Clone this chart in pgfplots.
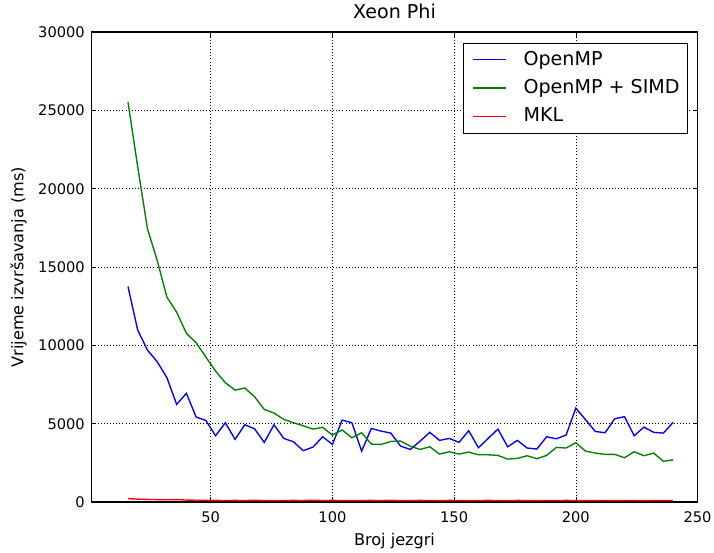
\documentclass[border=0pt]{standalone}
\usepackage{pgfplots}
\pgfplotsset{compat=1.18}
\usepackage{fontspec}
\setmainfont{DejaVu Sans}
\definecolor{mplblue}{rgb}{0,0,1}
\definecolor{mplgreen}{rgb}{0,0.5,0}
\definecolor{mplred}{rgb}{1,0,0}

\begin{document}
\begin{tikzpicture}
\begin{axis}[
scale only axis,width=489pt,height=379.3pt,
xmin=1,xmax=250,ymin=0,ymax=30000,
xtick={50,100,150,200,250},ytick={0,5000,...,30000},
/pgf/number format/assume math mode=true,
/pgf/number format/1000 sep={},
scaled y ticks=false,
tick align=inside,major tick length=4pt,
tick style={black,line width=0.5pt},
axis line style={line width=1pt},
grid=major,grid style={black,line width=0.5pt,dotted},
ticklabel style={font=\fontsize{11.8}{14}\selectfont},
xticklabel style={anchor=north,inner sep=0pt,yshift=-7.8pt},
yticklabel style={anchor=east,inner sep=0pt,xshift=-5.2pt},
title={Xeon Phi},
title style={at={(rel axis cs:0.5,1)},anchor=base,yshift=4.8pt,font=\fontsize{15.4}{18}\selectfont},
xlabel={Broj jezgri},
xlabel style={at={(rel axis cs:0.5,0)},anchor=base,yshift=-35pt,font=\fontsize{13}{15}\selectfont},
ylabel={Vrijeme izvršavanja (ms)},
ylabel style={at={(rel axis cs:0,0.5)},anchor=base,yshift=55pt,font=\fontsize{13}{15}\selectfont},
legend cell align=left,
legend image code/.code={\path (0pt,0pt) -- (3.5pt,0pt);\draw[#1] (3.5pt,0pt) -- (26.9pt,0pt);},
legend style={at={(rel axis cs:1,1)},anchor=north east,xshift=-7.4pt,yshift=-8.6pt,
  draw=black,line width=0.8pt,inner xsep=6.7pt,inner ysep=6.5pt,
  row sep=9.1pt,column sep=13.5pt,
  font=\fontsize{15.4}{18}\selectfont,
  nodes={inner sep=0pt,text height=11.3pt,text depth=2.5pt}},
]
\addplot[mplblue,line width=1.1pt] coordinates {
(16,13760) (20,10980) (24,9700) (28,8960) (32,7940) (36,6235) (40,6940) (44,5430)
(48,5210) (52,4235) (56,5065) (60,4000) (64,4937) (68,4680) (72,3810) (76,4937)
(80,4065) (84,3850) (88,3280) (92,3510) (96,4170) (100,3680) (104,5235) (108,5065)
(112,3255) (116,4700) (120,4530) (124,4405) (128,3575) (132,3360) (136,3890) (140,4450)
(144,3940) (148,4065) (152,3810) (156,4555) (160,3470) (164,4065) (168,4660) (172,3530)
(176,3940) (180,3450) (184,3385) (188,4170) (192,4040) (196,4280) (200,6000) (204,5255)
(208,4510) (212,4425) (216,5320) (220,5450) (224,4235) (228,4790) (232,4450) (236,4405)
(240,5085)};
\addlegendentry{OpenMP}
\addplot[mplgreen,line width=1.1pt] coordinates {
(16,25530) (20,21400) (24,17450) (28,15430) (32,13080) (36,12120) (40,10770) (44,10170)
(48,9260) (52,8360) (56,7620) (60,7150) (64,7280) (68,6725) (72,5915) (76,5680)
(80,5280) (84,5065) (88,4870) (92,4660) (96,4770) (100,4280) (104,4600) (108,4105)
(112,4425) (116,3700) (120,3680) (124,3870) (128,3895) (132,3575) (136,3360) (140,3530)
(144,3065) (148,3215) (152,3065) (156,3190) (160,3020) (164,3020) (168,2980) (172,2745)
(176,2790) (180,2960) (184,2765) (188,2980) (192,3490) (196,3450) (200,3790) (204,3255)
(208,3130) (212,3045) (216,3045) (220,2830) (224,3215) (228,2960) (232,3130) (236,2600)
(240,2700)};
\addlegendentry{OpenMP + SIMD}
\addplot[mplred,line width=1.1pt] coordinates {
(16,220) (20,190) (24,170) (28,160) (32,150) (36,160) (40,130) (44,120)
(48,120) (52,110) (56,100) (60,110) (64,100) (68,120) (72,100) (76,90)
(80,100) (84,110) (88,100) (92,120) (96,100) (100,110) (104,100) (108,90)
(112,100) (116,110) (120,100) (124,120) (128,90) (132,100) (136,110) (140,100)
(144,90) (148,110) (152,100) (156,90) (160,100) (164,110) (168,100) (172,90)
(176,110) (180,100) (184,90) (188,100) (192,100) (196,110) (200,100) (204,90)
(208,100) (212,100) (216,90) (220,100) (224,100) (228,90) (232,100) (236,100)
(240,100)};
\addlegendentry{MKL}
\end{axis}
\path (current axis.south west) ++(-73.8pt,-37.9pt) rectangle ([xshift=13.3pt,yshift=25pt]current axis.north east);
\end{tikzpicture}
\end{document}
